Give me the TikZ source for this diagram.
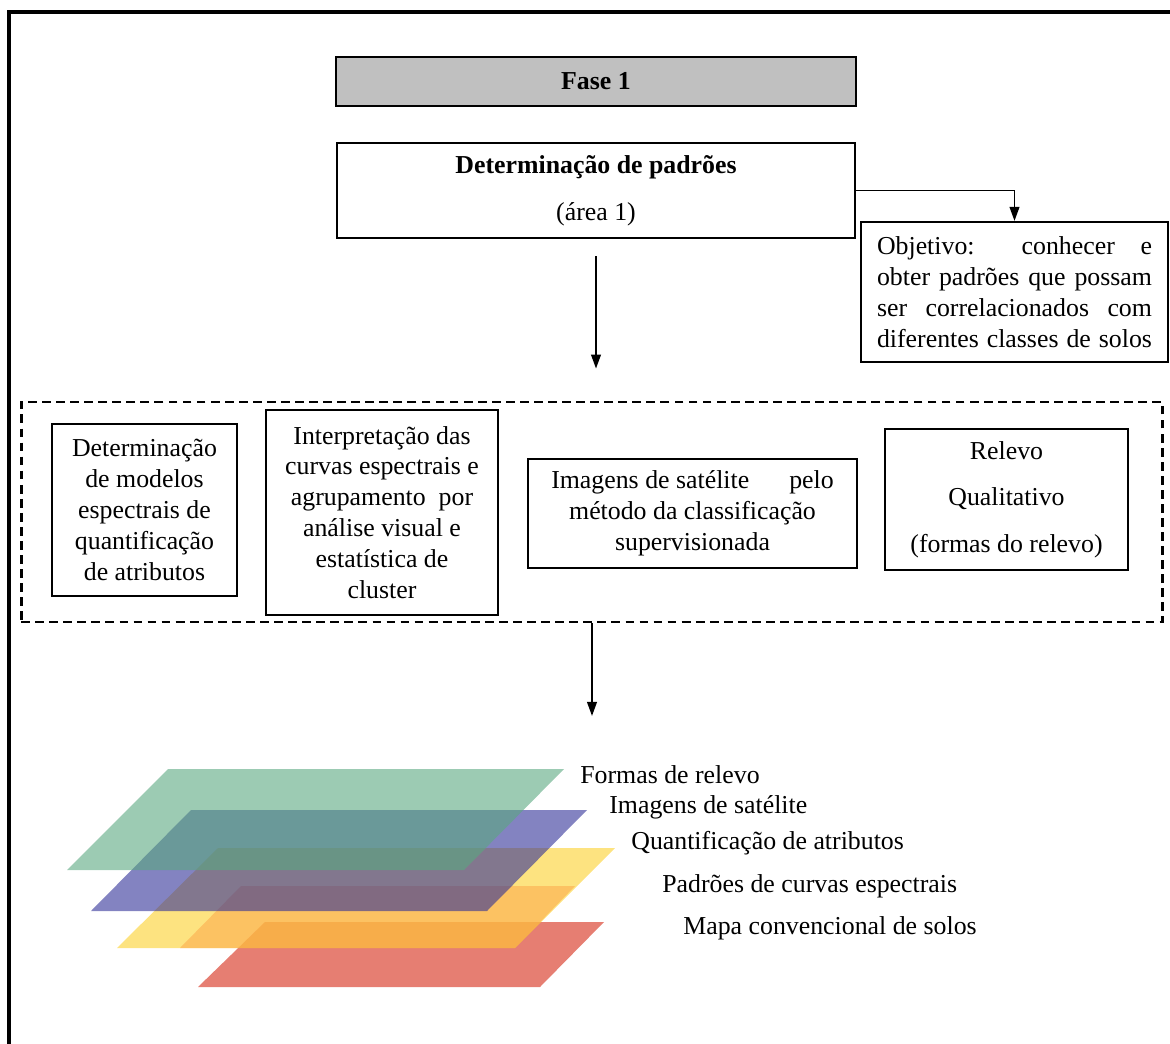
\documentclass[tikz,border=0pt]{standalone}
\usepackage{fontspec}
\setmainfont{Liberation Serif}
\usetikzlibrary{arrows.meta,positioning}

\definecolor{fasegray}{RGB}{192,192,192}
\definecolor{layergreen}{RGB}{90,168,128}
\definecolor{layerblue}{RGB}{48,48,152}
\definecolor{layeryellow}{RGB}{252,208,43}
\definecolor{layerorange}{RGB}{252,172,78}
\definecolor{layerred}{RGB}{213,40,20}

\newcommand{\fullline}[1]{\makebox[5.5cm][s]{#1}}

\begin{document}
\begin{tikzpicture}[x=0.02cm,y=-0.02cm,
  every node/.style={font=\fontsize{14.7}{17.6}\selectfont},
  box/.style={draw,line width=1.6pt,inner sep=0pt,align=center},
  thinbox/.style={draw,line width=1.2pt,inner sep=0pt},
  arr/.style={-{Triangle[length=8pt,width=5.5pt]},line width=1.1pt},
  layer/.style={fill opacity=0.6}]
\useasboundingbox (0,0) rectangle (1170,1044);

% frame
\draw[line width=1.8pt] (9,1044) -- (9,12) -- (1170,12);

% top
\node[thinbox,fill=fasegray,minimum width=10.4cm,minimum height=0.98cm] (fase) at (596,81.5) {\textbf{Fase 1}};
\node[box,minimum width=10.36cm,minimum height=1.9cm] (det) at (596,190.5)
  {\textbf{Determinação de padrões}\\[9.1pt](área 1)};
\node[thinbox,text width=5.5cm,minimum width=6.14cm,minimum height=2.8cm,align=justify] (obj) at (1014.5,292)
  {\fullline{Objetivo: conhecer e}\\\fullline{obter padrões que possam}\\\fullline{ser correlacionados com}\\\fullline{diferentes classes de solos}};

% middle
\node[draw,dash pattern=on 5pt off 3pt,line width=1.6pt,minimum width=22.84cm,minimum height=4.4cm] (grupo) at (592,512) {};
\node[box,minimum width=3.7cm,minimum height=3.44cm] (modelos) at (144.5,510)
  {Determinação\\de modelos\\espectrais de\\quantificação\\de atributos};
\node[box,minimum width=4.64cm,minimum height=4.1cm] (curvas) at (382,512.5)
  {Interpretação das\\curvas espectrais e\\agrupamento\ \ por\\análise visual e\\estatística de\\cluster};
\node[box,minimum width=6.58cm,minimum height=2.18cm] (imagens) at (692.5,513.5)
  {Imagens de satélite\hspace{1.3em} pelo\\método da classificação\\supervisionada};
\node[box,minimum width=4.86cm,minimum height=2.82cm] (relevo) at (1006.5,499.5)
  {Relevo\\[8.9pt]Qualitativo\\[8.9pt](formas do relevo)};

\coordinate (pilha) at (592,716);

\draw[arr] (det.east) -| (obj.north);
\draw[arr,shorten <=0.34cm,shorten >=0.64cm] (det.south) -- (det.south |- grupo.north);
\draw[arr] (grupo.south) -- (pilha);

% layers
\fill[layer,layerred] (265,922) -- (604,922) -- (540,987) -- (198,987) -- cycle;
\fill[layer,layeryellow] (218,848) -- (615,848) -- (515,948) -- (117,948) -- cycle;
\fill[layer,layerorange] (241,886) -- (575,886) -- (515,948) -- (180,948) -- cycle;
\fill[layer,layerblue] (191,810) -- (587,810) -- (487,911) -- (91,911) -- cycle;
\fill[layer,layergreen] (168,769) -- (564,769) -- (464,870) -- (67,870) -- cycle;

\node[anchor=west,inner sep=0pt] (formas) at (580,775) {Formas de relevo};
\node[anchor=west,inner sep=0pt] (sat) at (609,807) {Imagens de satélite};
\node[anchor=west,inner sep=0pt] (quant) at (631,843) {Quantificação de atributos};
\node[anchor=west,inner sep=0pt] (padroes) at (662,886) {Padrões de curvas espectrais};
\node[anchor=west,inner sep=0pt] (mapa) at (683,928) {Mapa convencional de solos};
\end{tikzpicture}
\end{document}
